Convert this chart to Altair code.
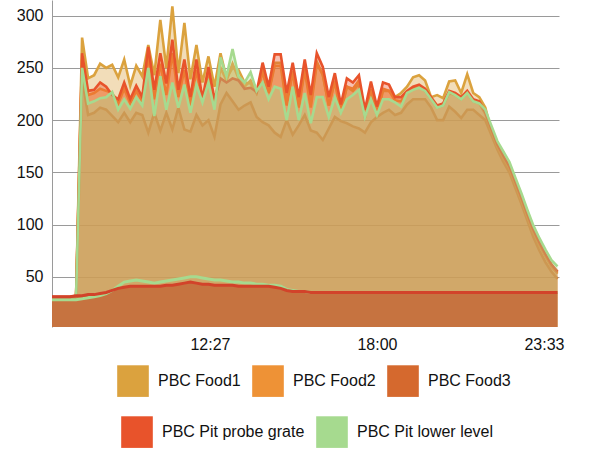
import altair as alt
import pandas as pd

# time axis: minutes after midnight, one reading every 12 minutes
START_MIN = 432
STEP_MIN = 12
minutes = [START_MIN + STEP_MIN * i for i in range(85)]

food_names = ["PBC Food1", "PBC Food2", "PBC Food3"]
food_colors = ["#DBA23E", "#EE9236", "#D5692E"]
pit_names = ["PBC Pit probe grate", "PBC Pit lower level"]
pit_colors = ["#E8532B", "#A6DA8F"]

food1 = [30, 30, 30, 30, 31, 279, 240, 243, 254, 250,
         253, 241, 258, 233, 252, 242, 272, 243, 296, 250,
         309, 245, 293, 239, 272, 236, 261, 232, 264, 240,
         250, 248, 236, 235, 226, 247, 226, 255, 255, 218,
         247, 214, 250, 216, 256, 243, 214, 237, 207, 232,
         228, 235, 202, 229, 205, 228, 228, 222, 226, 232,
         241, 243, 238, 222, 224, 221, 237, 238, 226, 244,
         226, 222, 212, 190, 176, 165, 155, 140, 124, 108,
         93, 80, 70, 60, 54]

food2 = [30, 30, 30, 30, 31, 258, 224, 226, 230, 228,
         226, 216, 230, 216, 228, 218, 262, 220, 254, 224,
         264, 222, 248, 214, 248, 218, 244, 214, 250, 238,
         254, 240, 232, 238, 226, 246, 226, 252, 252, 214,
         246, 212, 248, 212, 254, 244, 214, 238, 210, 232,
         230, 238, 206, 230, 208, 230, 228, 219, 218, 226,
         230, 232, 228, 220, 212, 214, 226, 224, 220, 226,
         218, 216, 206, 190, 175, 164, 154, 139, 124, 108,
         93, 81, 70, 60, 53]

food3 = [28, 28, 28, 28, 29, 240, 205, 207, 212, 210,
         204, 198, 207, 198, 207, 205, 188, 207, 190, 207,
         191, 212, 191, 189, 205, 195, 200, 184, 215, 226,
         218, 210, 214, 217, 203, 198, 195, 188, 184, 200,
         186, 195, 205, 190, 188, 181, 192, 203, 199, 197,
         194, 192, 188, 198, 203, 207, 210, 205, 207, 215,
         220, 220, 220, 212, 200, 200, 213, 208, 202, 210,
         210, 205, 200, 186, 172, 160, 150, 135, 120, 104,
         88, 75, 64, 55, 48]

pit_grate = [31, 31, 31, 31, 32, 264, 228, 229, 236, 232,
             224, 220, 236, 220, 233, 222, 270, 229, 264, 235,
             277, 229, 258, 222, 258, 220, 251, 220, 240, 236,
             240, 238, 230, 231, 227, 255, 232, 263, 263, 226,
             255, 222, 258, 224, 264, 251, 222, 245, 215, 240,
             236, 243, 210, 237, 213, 236, 234, 222, 222, 228,
             232, 234, 230, 222, 214, 216, 228, 226, 222, 228,
             220, 218, 208, 192, 177, 166, 156, 141, 126, 110,
             95, 83, 72, 62, 55]

pit_lower = [30, 30, 30, 30, 31, 250, 216, 218, 221, 222,
             227, 210, 220, 211, 222, 214, 250, 204, 242, 210,
             236, 212, 234, 207, 234, 217, 236, 210, 260, 242,
             268, 242, 236, 246, 228, 236, 220, 232, 230, 200,
             232, 200, 226, 197, 222, 222, 203, 222, 207, 220,
             224, 229, 203, 220, 205, 220, 220, 217, 213, 226,
             229, 231, 228, 220, 212, 214, 227, 224, 220, 226,
             218, 216, 210, 195, 180, 170, 160, 145, 130, 114,
             99, 87, 76, 66, 60]

# lower band readings
grate_low = [31, 31, 31, 31, 32, 32, 33, 33, 34, 35,
             37, 39, 40, 41, 41, 41, 41, 41, 41, 42,
             42, 43, 44, 45, 44, 43, 43, 42, 42, 42,
             42, 41, 41, 41, 41, 41, 41, 40, 39, 37,
             36, 36, 36, 35, 35, 35, 35, 35, 35, 35,
             35, 35, 35, 35, 35, 35, 35, 35, 35, 35,
             35, 35, 35, 35, 35, 35, 35, 35, 35, 35,
             35, 35, 35, 35, 35, 35, 35, 35, 35, 35,
             35, 35, 35, 35, 35]

lower_low = [28, 28, 28, 28, 28, 29, 30, 31, 32, 34,
             37, 41, 45, 46, 47, 46, 45, 44, 45, 46,
             47, 48, 49, 50, 50, 49, 48, 47, 47, 46,
             45, 45, 44, 44, 43, 43, 42, 42, 41, 38,
             37, 36, 36, 35, 35, 35, 35, 35, 35, 35,
             35, 35, 35, 35, 35, 35, 35, 35, 35, 35,
             35, 35, 35, 35, 35, 35, 35, 35, 35, 35,
             35, 35, 35, 35, 35, 35, 35, 35, 35, 35,
             35, 35, 35, 35, 35]

x_ticks = [747, 1080, 1413]
y_ticks = [50, 100, 150, 200, 250, 300]

FONT = "Liberation Sans"

x_axis = alt.Axis(values=x_ticks, title=None, grid=False, domain=False, ticks=False,
                  labelExpr="floor(datum.value/60) + ':' + (datum.value % 60 < 10 ? '0' : '') + (datum.value % 60)",
                  labelFontSize=16, labelColor="#111", labelFont=FONT, labelPadding=9)
y_axis = alt.Axis(values=y_ticks, title=None, grid=True, gridColor="#9a9a9a", gridWidth=1,
                  domain=True, domainColor="#9a9a9a", ticks=False,
                  labelFontSize=16, labelColor="#111", labelFont=FONT, labelPadding=9)
x_scale = alt.Scale(domain=[432, 1443], nice=False, zero=False)
y_scale = alt.Scale(domain=[2, 315], nice=False, zero=False)

x_enc = alt.X("t:Q", scale=x_scale, axis=x_axis)
y_enc = alt.Y("v:Q", scale=y_scale, axis=y_axis, stack=None)


def make_legend(lx, ly):
    return alt.Legend(title=None, orient="none", legendX=lx, legendY=ly,
                      direction="horizontal", symbolType="square", symbolSize=1000,
                      symbolStrokeWidth=0, symbolOpacity=1, labelFontSize=16, labelFont=FONT,
                      labelColor="#111", labelOffset=9, columnPadding=11, padding=0)


food_color = alt.Color("series:N", scale=alt.Scale(domain=food_names, range=food_colors),
                       legend=make_legend(65, 365))
pit_color = alt.Color("series:N", scale=alt.Scale(domain=pit_names, range=pit_colors),
                      legend=make_legend(69, 416))


def series_layers(name, vals, color_enc):
    df = pd.DataFrame({"t": minutes, "v": vals, "series": [name] * len(minutes)})
    base = alt.Chart(df).encode(x=x_enc, y=y_enc, color=color_enc)
    return [base.mark_area(opacity=0.36, clip=True),
            base.mark_line(strokeWidth=2.6, clip=True)]


food_group = alt.layer(*(series_layers("PBC Food3", food3, food_color)
                         + series_layers("PBC Food1", food1, food_color)
                         + series_layers("PBC Food2", food2, food_color)))
pit_group = alt.layer(*(series_layers("PBC Pit probe grate", pit_grate, pit_color)
                        + series_layers("PBC Pit lower level", pit_lower, pit_color)))

low_fill = pd.DataFrame({"t": minutes, "v": grate_low})
low_green = pd.DataFrame({"t": minutes, "v": lower_low})
low_red = pd.DataFrame({"t": minutes, "v": grate_low})

low_area = alt.Chart(low_fill).mark_area(opacity=0.85, clip=True, color="#C46A3A").encode(
    x=x_enc, y=y_enc)
green_low_line = alt.Chart(low_green).mark_line(strokeWidth=3, clip=True, color="#A6DA8F").encode(
    x=x_enc, y=y_enc)
red_low_line = alt.Chart(low_red).mark_line(strokeWidth=3, clip=True, color="#D2432A").encode(
    x=x_enc, y=y_enc)

chart = alt.layer(food_group, pit_group, low_area, green_low_line, red_low_line).resolve_scale(
    color="independent"
).properties(
    width=507, height=327,
    autosize=alt.AutoSizeParams(type="none"),
    padding={"left": 52, "top": 0, "right": 41, "bottom": 132},
    background="white",
).configure_view(stroke=None)

chart.save("out.html", embed_options={"renderer": "svg", "actions": False})
